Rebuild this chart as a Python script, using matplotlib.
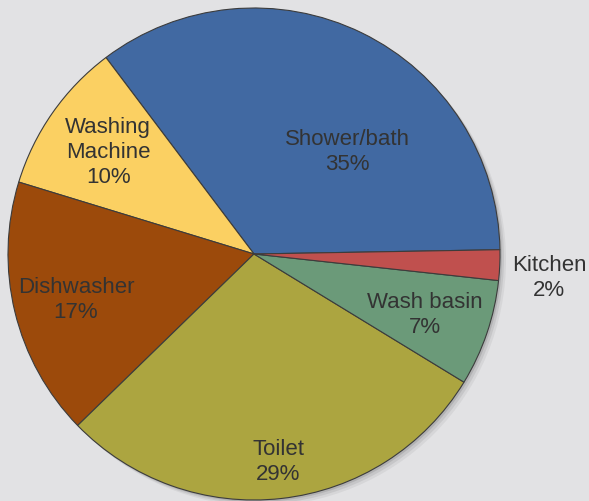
"""Household water use by appliance, drawn as a pie chart."""

import matplotlib

matplotlib.use("Agg")
import matplotlib.pyplot as plt
from matplotlib.patches import Circle

plt.rcParams["font.family"] = ["Liberation Sans", "DejaVu Sans"]

# share of household water use, counter-clockwise from the 3 o'clock edge
categories = ["Shower/bath", "Washing\nMachine", "Dishwasher", "Toilet", "Wash basin", "Kitchen"]
shares = [35, 10, 17, 29, 7, 2]
colors = ["#4169a2", "#fbd062", "#9c4a0b", "#aca540", "#6b9a79", "#c0504e"]

# label anchor points in pie units (radius = 1)
label_xy = [
    (0.378, 0.415),
    (-0.593, 0.411),
    (-0.724, -0.187),
    (0.098, -0.846),
    (0.693, -0.248),
    (1.199, -0.098),
]

W, H, DPI = 589, 501, 100
CX, CY, R = 254, 254, 246  # pie centre and radius in pixels

fig = plt.figure(figsize=(W / DPI, H / DPI), dpi=DPI)
fig.patch.set_facecolor("#e2e2e4")
ax = fig.add_axes([0, 0, 1, 1])
ax.set_facecolor("#e2e2e4")

# soft drop shadow behind the disc
for k, a in [(6, 0.05), (4, 0.07), (2, 0.10)]:
    ax.add_patch(Circle((k / R, -k / R), 1.0, color="black", alpha=a, lw=0, zorder=0))

wedges, _ = ax.pie(
    shares,
    colors=colors,
    startangle=1,
    counterclock=True,
    radius=1.0,
    wedgeprops=dict(edgecolor="#3c3c3c", linewidth=0.8),
)
for w in wedges:
    w.set_zorder(2)

for (x, y), name, val in zip(label_xy, categories, shares):
    ax.text(x, y, f"{name}\n{val}%", ha="center", va="center",
            fontsize=16, color="#333333", linespacing=1.25, zorder=3)

ax.set_xlim(-CX / R, (W - CX) / R)
ax.set_ylim(-(H - CY) / R, CY / R)
ax.set_aspect("auto")
ax.axis("off")

fig.savefig("out.png", dpi=DPI, facecolor=fig.get_facecolor())
